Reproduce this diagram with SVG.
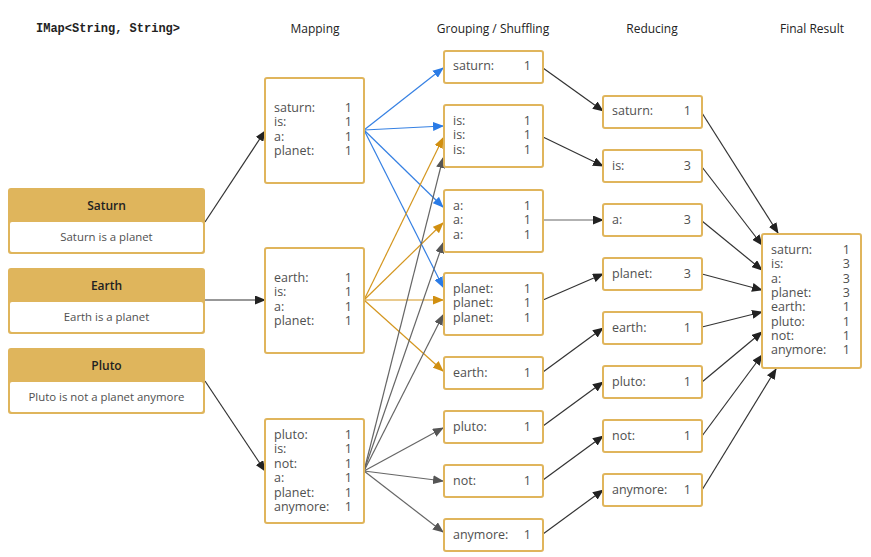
<svg xmlns="http://www.w3.org/2000/svg" width="871" height="557" viewBox="0 0 871 557">
<style>
.bg{fill:#fff}
.box{fill:#fff;stroke:#e0b55c;stroke-width:2}
.hdr{fill:#dfb55c}
.inner{fill:#fff}
.t{font-family:"Open Sans","Liberation Sans",sans-serif;font-size:12.5px;fill:#505050}
.s{font-family:"Open Sans","Liberation Sans",sans-serif;font-size:11.4px;fill:#505050}
.h{font-family:"Open Sans","Liberation Sans",sans-serif;font-size:12px;font-weight:600;fill:#222}
.title{font-family:"Open Sans","Liberation Sans",sans-serif;font-size:12px;fill:#222;text-anchor:middle}
.mono{font-family:"Liberation Mono",monospace;font-size:12px;font-weight:bold;fill:#222}
.n{text-anchor:end}
.c{text-anchor:middle}
.k{stroke:#333;stroke-width:1.2;fill:none}
.b{stroke:#3580e3;stroke-width:1.2;fill:none}
.o{stroke:#d4961f;stroke-width:1.2;fill:none}
.g{stroke:#666;stroke-width:1.2;fill:none}
</style>
<defs>
<marker id="ak" markerUnits="userSpaceOnUse" markerWidth="11" markerHeight="9" refX="10" refY="4.5" orient="auto"><path d="M0,0 L11,4.5 L0,9 z" fill="#222"/></marker>
<marker id="ab" markerUnits="userSpaceOnUse" markerWidth="11" markerHeight="9" refX="10" refY="4.5" orient="auto"><path d="M0,0 L11,4.5 L0,9 z" fill="#2a7be6"/></marker>
<marker id="ao" markerUnits="userSpaceOnUse" markerWidth="11" markerHeight="9" refX="10" refY="4.5" orient="auto"><path d="M0,0 L11,4.5 L0,9 z" fill="#d18f10"/></marker>
<marker id="ag" markerUnits="userSpaceOnUse" markerWidth="11" markerHeight="9" refX="10" refY="4.5" orient="auto"><path d="M0,0 L11,4.5 L0,9 z" fill="#555"/></marker>
</defs>
<rect class="bg" x="0" y="0" width="871" height="557"/>

<g id="titles">
<text class="mono" x="36" y="32">IMap&lt;String, String&gt;</text>
<text class="title" x="315" y="33">Mapping</text>
<text class="title" x="493" y="33">Grouping / Shuffling</text>
<text class="title" x="652" y="33">Reducing</text>
<text class="title" x="812" y="33">Final Result</text>
</g>

<g id="connectors">
<line class="k" x1="205" y1="222" x2="265" y2="131" marker-end="url(#ak)"/>
<line class="k" x1="205" y1="300" x2="265" y2="300" marker-end="url(#ak)"/>
<line class="k" x1="205" y1="381" x2="265" y2="471" marker-end="url(#ak)"/>

<line class="b" x1="364" y1="130" x2="443" y2="68" marker-end="url(#ab)"/>
<line class="b" x1="364" y1="130" x2="443" y2="126" marker-end="url(#ab)"/>
<line class="b" x1="364" y1="130" x2="443" y2="207" marker-end="url(#ab)"/>
<line class="b" x1="364" y1="130" x2="443" y2="287" marker-end="url(#ab)"/>

<line class="o" x1="364" y1="300" x2="443" y2="138" marker-end="url(#ao)"/>
<line class="o" x1="364" y1="300" x2="443" y2="223" marker-end="url(#ao)"/>
<line class="o" x1="364" y1="300" x2="443" y2="300" marker-end="url(#ao)"/>
<line class="o" x1="364" y1="300" x2="443" y2="371" marker-end="url(#ao)"/>

<line class="g" x1="364" y1="471" x2="443" y2="158" marker-end="url(#ag)"/>
<line class="g" x1="364" y1="471" x2="443" y2="243" marker-end="url(#ag)"/>
<line class="g" x1="364" y1="471" x2="443" y2="315" marker-end="url(#ag)"/>
<line class="g" x1="364" y1="471" x2="443" y2="428" marker-end="url(#ag)"/>
<line class="g" x1="364" y1="471" x2="443" y2="481" marker-end="url(#ag)"/>
<line class="g" x1="364" y1="471" x2="443" y2="532" marker-end="url(#ag)"/>

<line class="k" x1="543" y1="68" x2="603" y2="111" marker-end="url(#ak)"/>
<line class="k" x1="543" y1="137" x2="603" y2="166" marker-end="url(#ak)"/>
<line class="g" x1="543" y1="220" x2="603" y2="220" marker-end="url(#ak)"/>
<line class="k" x1="543" y1="300" x2="603" y2="274" marker-end="url(#ak)"/>
<line class="k" x1="543" y1="372" x2="603" y2="328" marker-end="url(#ak)"/>
<line class="k" x1="543" y1="426" x2="603" y2="382" marker-end="url(#ak)"/>
<line class="k" x1="543" y1="480" x2="603" y2="436" marker-end="url(#ak)"/>
<line class="k" x1="543" y1="534" x2="603" y2="490" marker-end="url(#ak)"/>

<line class="k" x1="702" y1="113" x2="778" y2="233" marker-end="url(#ak)"/>
<line class="k" x1="702" y1="167" x2="762" y2="245" marker-end="url(#ak)"/>
<line class="k" x1="702" y1="221" x2="762" y2="270" marker-end="url(#ak)"/>
<line class="k" x1="702" y1="274" x2="762" y2="290" marker-end="url(#ak)"/>
<line class="k" x1="702" y1="327" x2="762" y2="312" marker-end="url(#ak)"/>
<line class="k" x1="702" y1="382" x2="762" y2="332" marker-end="url(#ak)"/>
<line class="k" x1="702" y1="436" x2="762" y2="355" marker-end="url(#ak)"/>
<line class="k" x1="702" y1="490" x2="776" y2="369" marker-end="url(#ak)"/>
</g>

<g id="src-saturn">
<rect class="hdr" x="8" y="188" width="197" height="66" rx="3"/>
<rect class="inner" x="10" y="222" width="193" height="30" rx="2"/>
<text class="h c" x="106.5" y="210">Saturn</text>
<text class="s c" x="106.5" y="241">Saturn is a planet</text>
</g>
<g id="src-earth">
<rect class="hdr" x="8" y="268" width="197" height="66" rx="3"/>
<rect class="inner" x="10" y="302" width="193" height="30" rx="2"/>
<text class="h c" x="106.5" y="290">Earth</text>
<text class="s c" x="106.5" y="321">Earth is a planet</text>
</g>
<g id="src-pluto">
<rect class="hdr" x="8" y="348" width="197" height="66" rx="3"/>
<rect class="inner" x="10" y="382" width="193" height="30" rx="2"/>
<text class="h c" x="106.5" y="370">Pluto</text>
<text class="s c" x="106.5" y="401">Pluto is not a planet anymore</text>
</g>

<g id="map-saturn">
<rect class="box" x="265" y="78" width="99" height="105" rx="2"/>
<text class="t" x="274" y="112">saturn:</text><text class="t n" x="352" y="112">1</text>
<text class="t" x="274" y="126.4">is:</text><text class="t n" x="352" y="126.4">1</text>
<text class="t" x="274" y="140.8">a:</text><text class="t n" x="352" y="140.8">1</text>
<text class="t" x="274" y="155.2">planet:</text><text class="t n" x="352" y="155.2">1</text>
</g>
<g id="map-earth">
<rect class="box" x="265" y="248" width="99" height="105" rx="2"/>
<text class="t" x="274" y="282">earth:</text><text class="t n" x="352" y="282">1</text>
<text class="t" x="274" y="296.4">is:</text><text class="t n" x="352" y="296.4">1</text>
<text class="t" x="274" y="310.8">a:</text><text class="t n" x="352" y="310.8">1</text>
<text class="t" x="274" y="325.2">planet:</text><text class="t n" x="352" y="325.2">1</text>
</g>
<g id="map-pluto">
<rect class="box" x="265" y="419" width="99" height="104" rx="2"/>
<text class="t" x="274" y="439">pluto:</text><text class="t n" x="352" y="439">1</text>
<text class="t" x="274" y="453.4">is:</text><text class="t n" x="352" y="453.4">1</text>
<text class="t" x="274" y="467.8">not:</text><text class="t n" x="352" y="467.8">1</text>
<text class="t" x="274" y="482.2">a:</text><text class="t n" x="352" y="482.2">1</text>
<text class="t" x="274" y="496.6">planet:</text><text class="t n" x="352" y="496.6">1</text>
<text class="t" x="274" y="511">anymore:</text><text class="t n" x="352" y="511">1</text>
</g>

<g id="grp-saturn">
<rect class="box" x="444" y="51" width="99" height="32" rx="2"/>
<text class="t" x="453" y="70">saturn:</text><text class="t n" x="531" y="70">1</text>
</g>
<g id="grp-is">
<rect class="box" x="444" y="105" width="99" height="62" rx="2"/>
<text class="t" x="453" y="125">is:</text><text class="t n" x="531" y="125">1</text>
<text class="t" x="453" y="139.4">is:</text><text class="t n" x="531" y="139.4">1</text>
<text class="t" x="453" y="153.8">is:</text><text class="t n" x="531" y="153.8">1</text>
</g>
<g id="grp-a">
<rect class="box" x="444" y="190" width="99" height="62" rx="2"/>
<text class="t" x="453" y="210">a:</text><text class="t n" x="531" y="210">1</text>
<text class="t" x="453" y="224.4">a:</text><text class="t n" x="531" y="224.4">1</text>
<text class="t" x="453" y="238.8">a:</text><text class="t n" x="531" y="238.8">1</text>
</g>
<g id="grp-planet">
<rect class="box" x="444" y="273" width="99" height="62" rx="2"/>
<text class="t" x="453" y="293">planet:</text><text class="t n" x="531" y="293">1</text>
<text class="t" x="453" y="307.4">planet:</text><text class="t n" x="531" y="307.4">1</text>
<text class="t" x="453" y="321.8">planet:</text><text class="t n" x="531" y="321.8">1</text>
</g>
<g id="grp-earth">
<rect class="box" x="444" y="357" width="99" height="32" rx="2"/>
<text class="t" x="453" y="377">earth:</text><text class="t n" x="531" y="377">1</text>
</g>
<g id="grp-pluto">
<rect class="box" x="444" y="411" width="99" height="32" rx="2"/>
<text class="t" x="453" y="431">pluto:</text><text class="t n" x="531" y="431">1</text>
</g>
<g id="grp-not">
<rect class="box" x="444" y="465" width="99" height="32" rx="2"/>
<text class="t" x="453" y="485">not:</text><text class="t n" x="531" y="485">1</text>
</g>
<g id="grp-anymore">
<rect class="box" x="444" y="519" width="99" height="32" rx="2"/>
<text class="t" x="453" y="539">anymore:</text><text class="t n" x="531" y="539">1</text>
</g>

<g id="red-saturn">
<rect class="box" x="603" y="96" width="99" height="32" rx="2"/>
<text class="t" x="612" y="115">saturn:</text><text class="t n" x="691" y="115">1</text>
</g>
<g id="red-is">
<rect class="box" x="603" y="150" width="99" height="32" rx="2"/>
<text class="t" x="612" y="170">is:</text><text class="t n" x="691" y="170">3</text>
</g>
<g id="red-a">
<rect class="box" x="603" y="204" width="99" height="32" rx="2"/>
<text class="t" x="612" y="224">a:</text><text class="t n" x="691" y="224">3</text>
</g>
<g id="red-planet">
<rect class="box" x="603" y="258" width="99" height="32" rx="2"/>
<text class="t" x="612" y="278">planet:</text><text class="t n" x="691" y="278">3</text>
</g>
<g id="red-earth">
<rect class="box" x="603" y="312" width="99" height="32" rx="2"/>
<text class="t" x="612" y="332">earth:</text><text class="t n" x="691" y="332">1</text>
</g>
<g id="red-pluto">
<rect class="box" x="603" y="366" width="99" height="32" rx="2"/>
<text class="t" x="612" y="386">pluto:</text><text class="t n" x="691" y="386">1</text>
</g>
<g id="red-not">
<rect class="box" x="603" y="420" width="99" height="32" rx="2"/>
<text class="t" x="612" y="440">not:</text><text class="t n" x="691" y="440">1</text>
</g>
<g id="red-anymore">
<rect class="box" x="603" y="474" width="99" height="32" rx="2"/>
<text class="t" x="612" y="494">anymore:</text><text class="t n" x="691" y="494">1</text>
</g>

<g id="final">
<rect class="box" x="762" y="234" width="99" height="134" rx="2"/>
<text class="t" x="771" y="254">saturn:</text><text class="t n" x="850" y="254">1</text>
<text class="t" x="771" y="268.3">is:</text><text class="t n" x="850" y="268.3">3</text>
<text class="t" x="771" y="282.6">a:</text><text class="t n" x="850" y="282.6">3</text>
<text class="t" x="771" y="296.9">planet:</text><text class="t n" x="850" y="296.9">3</text>
<text class="t" x="771" y="311.2">earth:</text><text class="t n" x="850" y="311.2">1</text>
<text class="t" x="771" y="325.5">pluto:</text><text class="t n" x="850" y="325.5">1</text>
<text class="t" x="771" y="339.8">not:</text><text class="t n" x="850" y="339.8">1</text>
<text class="t" x="771" y="354.1">anymore:</text><text class="t n" x="850" y="354.1">1</text>
</g>
</svg>
